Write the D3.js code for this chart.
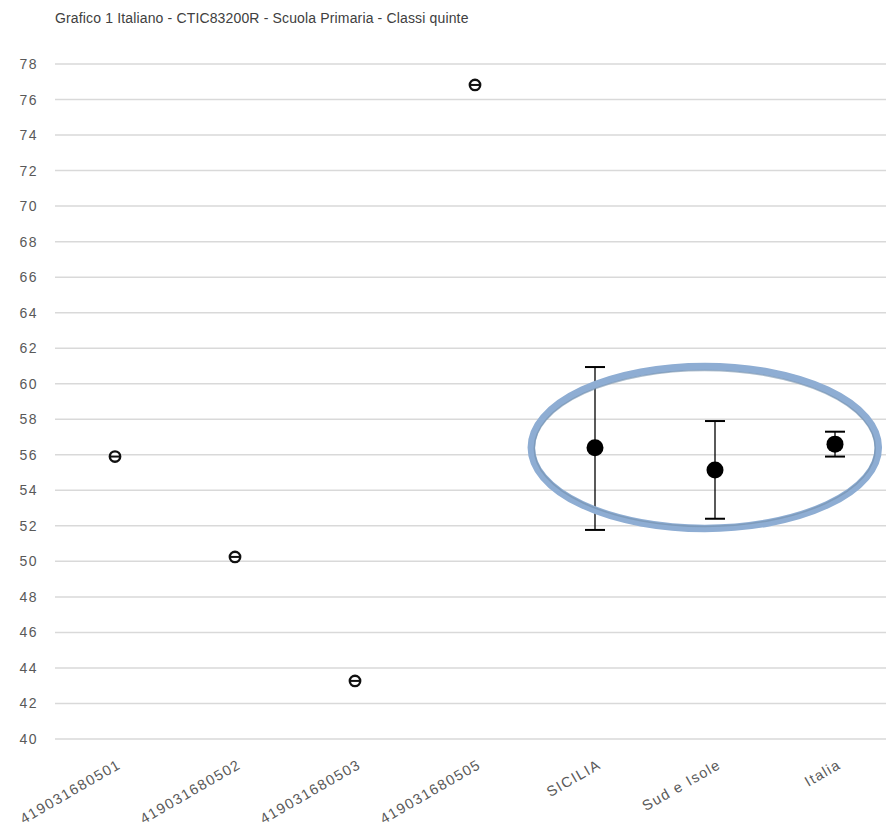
<!DOCTYPE html>
<html><head><meta charset="utf-8">
<script src="https://cdn.jsdelivr.net/npm/d3@7"></script>
<style>
html,body{margin:0;padding:0;background:#fff;}
svg{display:block;font-family:"Liberation Sans",Arial,sans-serif;}
</style></head>
<body><svg id="c" width="886" height="827"></svg>
<script>
const title = "Grafico 1 Italiano - CTIC83200R - Scuola Primaria - Classi quinte";
const categories = ["419031680501","419031680502","419031680503","419031680505","SICILIA","Sud e Isole","Italia"];
const values =     [55.9, 50.25, 43.27, 76.82, 56.4, 55.15, 56.6];
const errLow =     [null, null, null, null, 51.77, 52.4, 55.9];
const errHigh =    [null, null, null, null, 60.94, 57.9, 57.3];
const yTicks = d3.range(40, 79, 2);
// annotation ellipse in data units (category index, value)
const ellipseIdx = [3.44, 6.39];
const ellipseVal = [51.66, 61.17];

const svg = d3.select("#c");
const W = 886, H = 827;
const m = {left:55, right:895, top:64, bottom:739};

const x = d3.scalePoint().domain(categories).range([m.left, m.right]).padding(0.5);
const step = x.step();
const xi = i => x(categories[0]) + i*step;
const y = d3.scaleLinear().domain([40,78]).range([m.bottom, m.top]);

svg.append("text").attr("x",55).attr("y",23)
  .attr("font-size",14).attr("letter-spacing",0.15).attr("fill","#404040").text(title);

// grid
svg.append("g").selectAll("line").data(yTicks).join("line")
  .attr("x1",m.left).attr("x2",W).attr("y1",d=>y(d)).attr("y2",d=>y(d))
  .attr("stroke","#d9d9d9").attr("stroke-width",1.5);

// y axis labels
const yAxis = d3.axisLeft(y).tickValues(yTicks).tickSize(0).tickPadding(0);
const ga = svg.append("g").attr("transform","translate(38,0)").call(yAxis);
ga.select(".domain").remove();
ga.selectAll("text").attr("font-size",14).attr("letter-spacing",1.5).attr("fill","#595959")
  .attr("font-family","Liberation Sans, Arial, sans-serif");

// x labels
const gx = svg.append("g").attr("transform",`translate(0,${m.bottom})`)
  .call(d3.axisBottom(x).tickSize(0).tickPadding(0));
gx.select(".domain").remove();
gx.selectAll("text")
  .attr("font-size",14.5).attr("letter-spacing",1.4).attr("fill","#595959")
  .attr("font-family","Liberation Sans, Arial, sans-serif")
  .attr("text-anchor","end")
  .attr("transform","translate(4,24) rotate(-30)")
  .attr("dy","0.35em").attr("y",0).attr("x",0);

const data = categories.map((c,i)=>({c, v:values[i], lo:errLow[i], hi:errHigh[i]}));

// error bars
const eb = data.filter(d=>d.lo!=null);
const g = svg.append("g");
g.selectAll("line.v").data(eb).join("line").attr("class","v")
  .attr("x1",d=>x(d.c)).attr("x2",d=>x(d.c)).attr("y1",d=>y(d.lo)).attr("y2",d=>y(d.hi))
  .attr("stroke","#000").attr("stroke-width",1.3);
["lo","hi"].forEach(k=>{
  g.selectAll("line."+k).data(eb).join("line").attr("class",k)
    .attr("x1",d=>x(d.c)-10).attr("x2",d=>x(d.c)+10).attr("y1",d=>y(d[k])).attr("y2",d=>y(d[k]))
    .attr("stroke","#000").attr("stroke-width",2);
});
g.selectAll("circle.big").data(eb).join("circle").attr("class","big")
  .attr("cx",d=>x(d.c)).attr("cy",d=>y(d.v)).attr("r",8.5).attr("fill","#000");

// small markers
const sm = data.filter(d=>d.lo==null);
g.selectAll("circle.sm").data(sm).join("circle").attr("class","sm")
  .attr("cx",d=>x(d.c)).attr("cy",d=>y(d.v)).attr("r",5.2)
  .attr("fill","#fff").attr("stroke","#111").attr("stroke-width",2.4);
g.selectAll("line.sm").data(sm).join("line").attr("class","sm")
  .attr("x1",d=>x(d.c)-5.5).attr("x2",d=>x(d.c)+5.5).attr("y1",d=>y(d.v)).attr("y2",d=>y(d.v))
  .attr("stroke","#111").attr("stroke-width",2);

// annotation ellipse
const ex0 = xi(ellipseIdx[0]), ex1 = xi(ellipseIdx[1]);
const ey0 = y(ellipseVal[1]), ey1 = y(ellipseVal[0]);
const cx = (ex0+ex1)/2, cy = (ey0+ey1)/2, rx=(ex1-ex0)/2 - 3.5, ry=(ey1-ey0)/2 - 3.5;
svg.append("ellipse").attr("cx",cx).attr("cy",cy).attr("rx",rx).attr("ry",ry)
  .attr("fill","none").attr("stroke","#8eadd3").attr("stroke-width",7.5);
svg.append("ellipse").attr("cx",cx).attr("cy",cy+1).attr("rx",rx-3).attr("ry",ry-3)
  .attr("fill","none").attr("stroke","#7390ac").attr("stroke-width",1.5).attr("opacity",0.6);
</script></body></html>
